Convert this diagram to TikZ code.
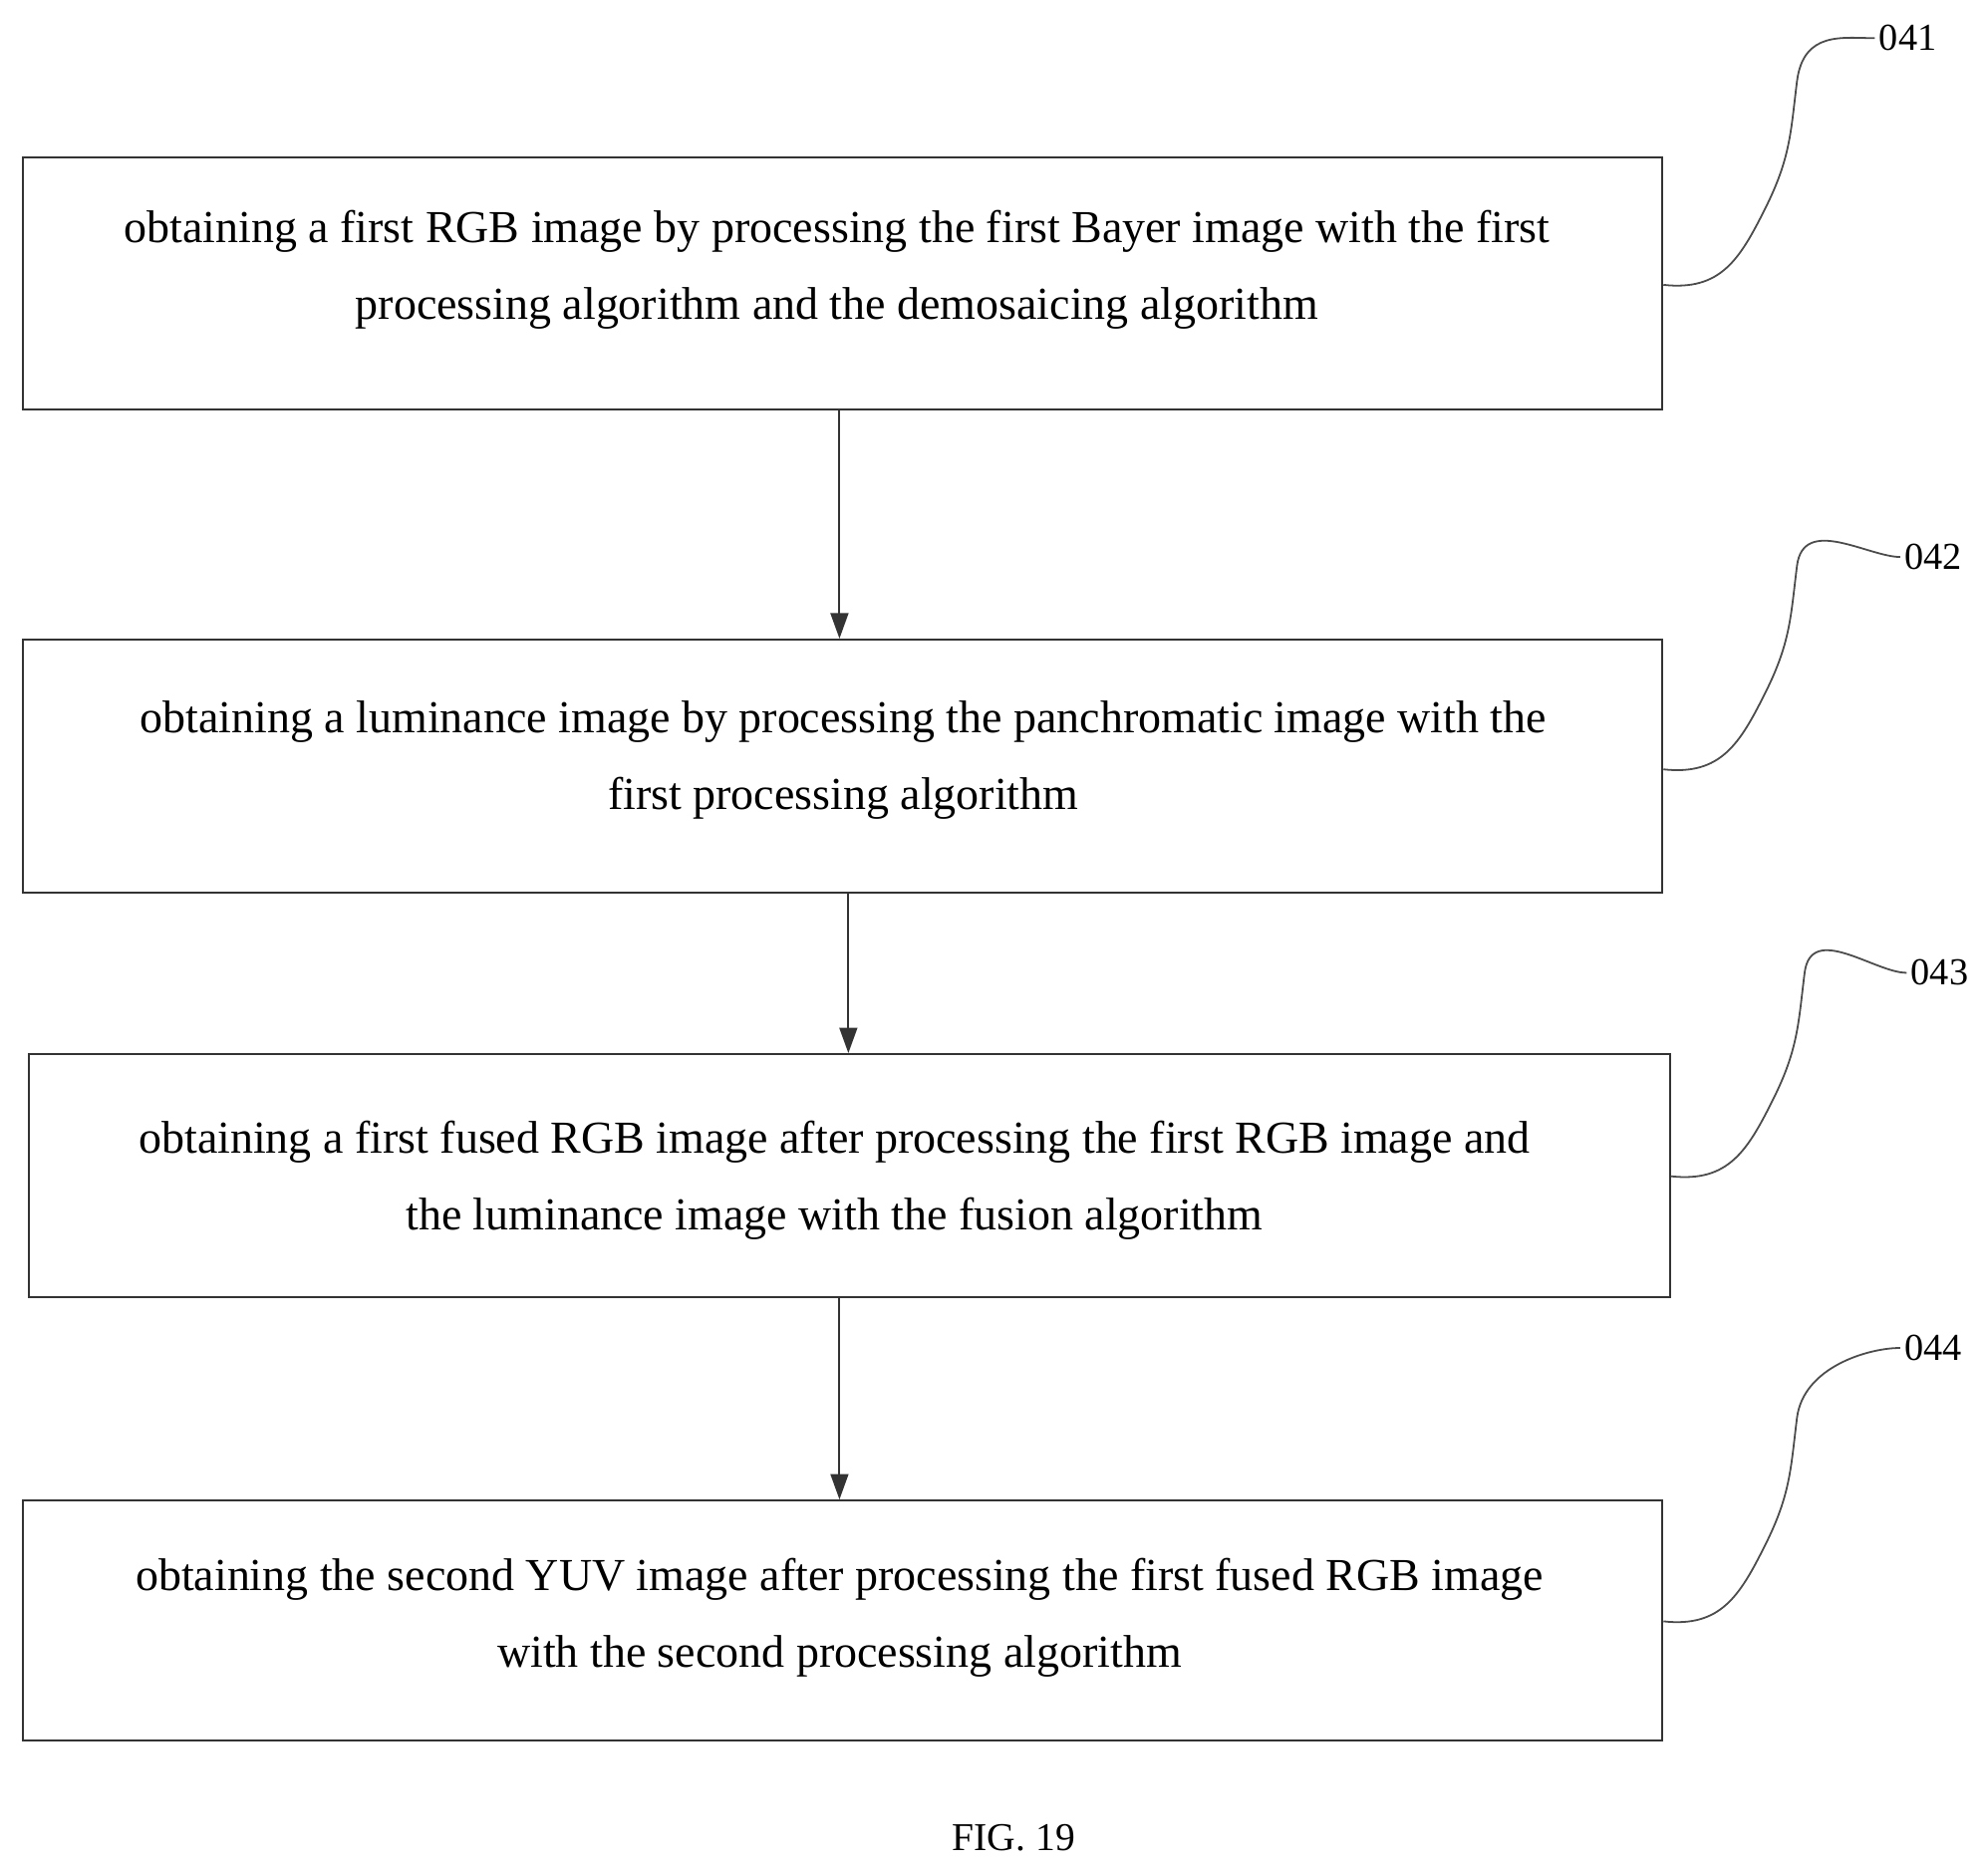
\documentclass[tikz,border=0pt]{standalone}
\usepackage{fontspec}
\setmainfont{Liberation Serif}
\usetikzlibrary{arrows.meta}
\begin{document}
\begin{tikzpicture}[x=1pt,y=-1pt,
  box/.style={draw=black!80,line width=1.6pt,inner sep=0pt},
  txt/.style={align=center,font=\fontsize{36}{60}\selectfont},
  arr/.style={draw=black!80,line width=1.6pt,-{Triangle[length=20pt,width=14pt]}},
  lead/.style={draw=black!70,line width=1.4pt},
  lab/.style={font=\fontsize{30}{30}\selectfont,anchor=west}]
\useasboundingbox (0,0) rectangle (1563,1469);
\node[box,minimum width=1289pt,minimum height=198pt] (b1) at (662.5,223) {};
\node[txt] (t1) at (658,212) {obtaining a first RGB image by processing the first Bayer image with the first\\processing algorithm and the demosaicing algorithm};
\node[box,minimum width=1289pt,minimum height=199pt] (b2) at (662.5,602.5) {};
\node[txt] (t2) at (663,598) {obtaining a luminance image by processing the panchromatic image with the\\first processing algorithm};
\node[box,minimum width=1290pt,minimum height=191pt] (b3) at (668,924.5) {};
\node[txt] (t3) at (656,928) {obtaining a first fused RGB image after processing the first RGB image and\\the luminance image with the fusion algorithm};
\node[box,minimum width=1289pt,minimum height=189pt] (b4) at (662.5,1274.5) {};
\node[txt] (t4) at (660,1272) {obtaining the second YUV image after processing the first fused RGB image\\with the second processing algorithm};
\draw[arr] (b1.south -| 660,0) -- (b2.north -| 660,0);
\draw[arr] (b2.south -| 667,0) -- (b3.north -| 667,0);
\draw[arr] (b3.south -| 660,0) -- (b4.north -| 660,0);
\node[lab] (l1) at (1474,30) {041};
\node[lab] (l2) at (1494,438) {042};
\node[lab] (l3) at (1499,765) {043};
\node[lab] (l4) at (1494,1060) {044};
\foreach \b/\l/\y in {b1/l1/224,b2/l2/605,b3/l3/925,b4/l4/1275}{
  \draw[lead] (\b.east |- 0,\y) .. controls +(45,5) and +(-20,40) .. ++(80,-60)
     .. controls +(20,-40) and +(-5,40) .. ++(25,-100)
     .. controls +(5,-40) and +(-25,0) .. (\l.west);
}
\node[font=\fontsize{31}{31}\selectfont] (fig) at (797,1445) {FIG. 19};
\end{tikzpicture}
\end{document}
